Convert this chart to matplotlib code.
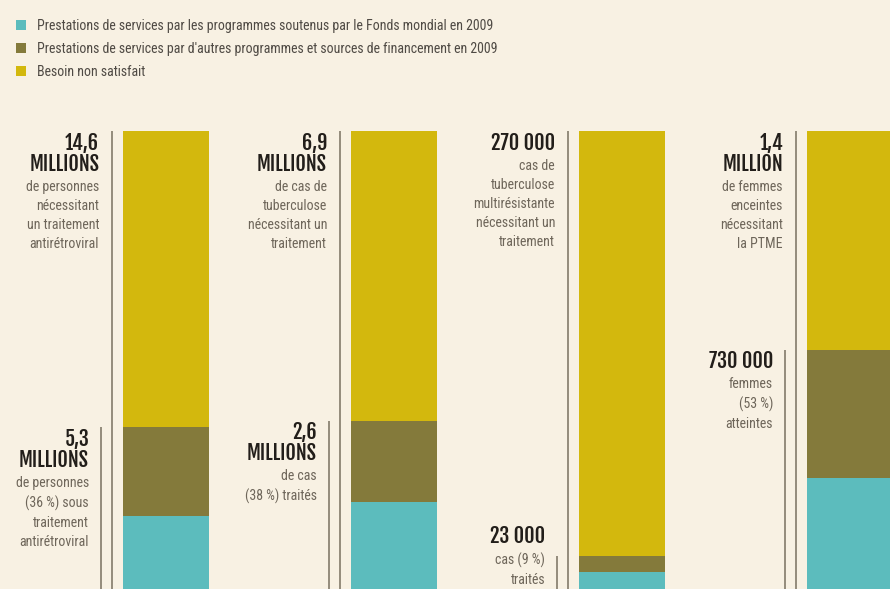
import matplotlib.pyplot as plt

# data (Fonds mondial, 2009)
categories = ["VIH", "Tuberculose", "TB-MR", "PTME"]
need = [14.6e6, 6.9e6, 270000, 1.4e6]
global_fund = [2.5e6, 1.4e6, 14000, 355000]
other = [2.8e6, 1.2e6, 9000, 385000]

legend_labels = [
    "Prestations de services par les programmes soutenus par le Fonds mondial en 2009",
    "Prestations de services par d'autres programmes et sources de financement en 2009",
    "Besoin non satisfait",
]

top_num = ["14,6", "6,9", "270 000", "1,4"]
top_unit = ["MILLIONS", "MILLIONS", None, "MILLION"]
top_text = [
    "de personnes\nnécessitant\nun traitement\nantirétroviral",
    "de cas de\ntuberculose\nnécessitant un\ntraitement",
    "cas de\ntuberculose\nmultirésistante\nnécessitant un\ntraitement",
    "de femmes\nenceintes\nnécessitant\nla PTME",
]
bot_num = ["5,3", "2,6", "23 000", "730 000"]
bot_unit = ["MILLIONS", "MILLIONS", None, None]
bot_text = [
    "de personnes\n(36 %) sous\ntraitement\nantirétroviral",
    "de cas\n(38 %) traités",
    "cas (9 %)\ntraités",
    "femmes\n(53 %)\natteintes",
]

teal = "#5cbcbd"
olive = "#847a3b"
yellow = "#d3b80d"
bg = "#f8f1e3"
linec = "#8c8474"

gf_pct = [g / n * 100 for g, n in zip(global_fund, need)]
ot_pct = [o / n * 100 for o, n in zip(other, need)]
done_pct = [a + b for a, b in zip(gf_pct, ot_pct)]
unmet_pct = [100 - d for d in done_pct]
x = list(range(len(categories)))

big_font = ['Fjalla One', 'Roboto Condensed', 'DejaVu Sans']
small_font = ['Roboto Condensed', 'PT Sans Narrow', 'DejaVu Sans']
plt.rcParams['font.family'] = small_font

fig = plt.figure(figsize=(8.9, 5.89), dpi=100)
fig.patch.set_facecolor(bg)
ax = fig.add_axes([0, -0.0119, 1, 0.7895])
ax.set_facecolor(bg)
ax.set_xlim(-166 / 228, 724 / 228)
ax.set_ylim(0, 100)
ax.axis('off')

w = 0.377
ax.bar(x, gf_pct, w, color=teal, label=legend_labels[0])
ax.bar(x, ot_pct, w, bottom=gf_pct, color=olive, label=legend_labels[1])
ax.bar(x, unmet_pct, w, bottom=done_pct, color=yellow, label=legend_labels[2])

# guide lines
ax.vlines([i - 0.237 for i in x], 0, 100, color=linec, lw=1.3)
ax.vlines([i - 0.287 for i in x], 0, done_pct, color=linec, lw=1.3)

px = 0.72  # points per pixel


def block(xi, y, dy, num, unit, txt, dx):
    kw = dict(textcoords='offset points', ha='right', va='top', annotation_clip=False)
    ax.annotate(num, (xi, y), xytext=(dx * px, dy * px), fontsize=14.5,
                family=big_font, color='#221e1a', **kw)
    if unit:
        ax.annotate(unit, (xi, y), xytext=(dx * px, (dy - 21) * px), fontsize=14.5,
                    family=big_font, color='#221e1a', **kw)
        off = 48
    else:
        off = 27
    ax.annotate(txt, (xi, y), xytext=(dx * px, (dy - off) * px), fontsize=10,
                color='#6e665a', linespacing=1.45, **kw)


bot_shift = [-1, 0, 31, 0]
for i in x:
    block(i, 100, -1, top_num[i], top_unit[i], top_text[i], -67)
    block(i, done_pct[i], bot_shift[i], bot_num[i], bot_unit[i], bot_text[i], -77)

h, l = ax.get_legend_handles_labels()
fig.legend(h, l, loc='upper left', bbox_to_anchor=(16 / 890, 1 - 19 / 589),
           frameon=False, fontsize=10, handlelength=0.75, handleheight=0.75,
           handletextpad=0.75, labelspacing=0.63, borderaxespad=0, borderpad=0,
           labelcolor='#4f4a44')

fig.savefig("out.png", dpi=100, facecolor=bg)
